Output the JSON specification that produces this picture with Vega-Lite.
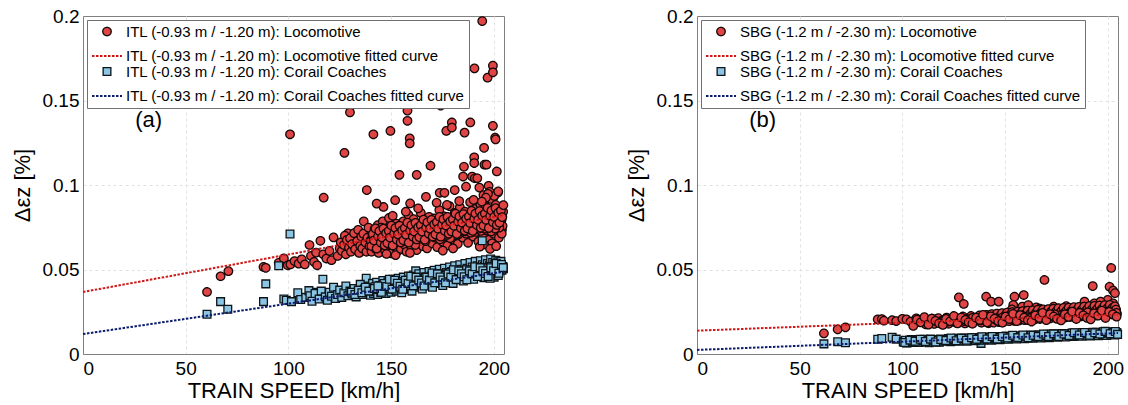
{
"$schema":"https://vega.github.io/schema/vega-lite/v6.json",
"background":"white",
"padding":{"left":10,"top":6,"right":5,"bottom":0},
"bounds":"flush",
"spacing":193,
"datasets":{
"aP":[
{"s":"L","x":60.4,"y":0.0367},{"s":"L","x":67,"y":0.046},{"s":"L","x":70.8,"y":0.049},{"s":"L","x":87.9,"y":0.0515},{"s":"L","x":89,"y":0.051},{"s":"L","x":95.3,"y":0.054},{"s":"L","x":97.8,"y":0.0566},{"s":"L","x":99.7,"y":0.0525},{"s":"L","x":101,"y":0.053},{"s":"L","x":100.8,"y":0.130},{"s":"L","x":103,"y":0.055},{"s":"L","x":105,"y":0.0535},{"s":"L","x":106.5,"y":0.056},{"s":"L","x":108,"y":0.053},{"s":"L","x":110.3,"y":0.0645},{"s":"L","x":111,"y":0.058},{"s":"L","x":112.5,"y":0.0545},{"s":"L","x":113.5,"y":0.060},{"s":"L","x":114,"y":0.0525},{"s":"L","x":115.6,"y":0.067},{"s":"L","x":117.2,"y":0.0925},{"s":"L","x":117,"y":0.059},{"s":"L","x":118.5,"y":0.0565},{"s":"L","x":120,"y":0.061},{"s":"L","x":121,"y":0.0555},{"s":"L","x":122,"y":0.069},{"s":"L","x":124,"y":0.058},{"s":"L","x":125,"y":0.0625},{"s":"L","x":127.3,"y":0.119},{"s":"L","x":129,"y":0.0714},{"s":"L","x":130,"y":0.143},{"s":"L","x":133,"y":0.070},{"s":"L","x":136.7,"y":0.0785},{"s":"L","x":138.2,"y":0.097},{"s":"L","x":141.4,"y":0.130},{"s":"L","x":146.3,"y":0.087},{"s":"L","x":149.7,"y":0.132},{"s":"L","x":154.1,"y":0.106},{"s":"L","x":158,"y":0.144},{"s":"L","x":158,"y":0.138},{"s":"L","x":158.5,"y":0.150},{"s":"L","x":159.1,"y":0.1276},{"s":"L","x":159.1,"y":0.1246},{"s":"L","x":159.3,"y":0.0891},{"s":"L","x":162.5,"y":0.106},{"s":"L","x":169.2,"y":0.1114},{"s":"L","x":173.6,"y":0.149},{"s":"L","x":174.2,"y":0.147},{"s":"L","x":173.7,"y":0.0954},{"s":"L","x":176,"y":0.0954},{"s":"L","x":176.9,"y":0.132},{"s":"L","x":179.6,"y":0.137},{"s":"L","x":179.6,"y":0.134},{"s":"L","x":185.5,"y":0.1108},{"s":"L","x":185.1,"y":0.105},{"s":"L","x":185.8,"y":0.131},{"s":"L","x":186.5,"y":0.099},{"s":"L","x":188.6,"y":0.137},{"s":"L","x":189.5,"y":0.105},{"s":"L","x":190.5,"y":0.1164},{"s":"L","x":190.5,"y":0.113},{"s":"L","x":190.6,"y":0.169},{"s":"L","x":190.8,"y":0.104},{"s":"L","x":194.4,"y":0.197},{"s":"L","x":195.3,"y":0.122},{"s":"L","x":195.5,"y":0.112},{"s":"L","x":196.5,"y":0.112},{"s":"L","x":197,"y":0.1635},{"s":"L","x":197.5,"y":0.0995},{"s":"L","x":199.6,"y":0.1706},{"s":"L","x":199.6,"y":0.1667},{"s":"L","x":199.6,"y":0.135},{"s":"L","x":200.7,"y":0.128},{"s":"L","x":200.9,"y":0.127},{"s":"L","x":201.5,"y":0.108},{"s":"L","x":192,"y":0.104},{"s":"L","x":193,"y":0.0985},{"s":"L","x":195,"y":0.094},{"s":"L","x":198,"y":0.096},{"s":"L","x":200,"y":0.093},{"s":"L","x":202,"y":0.0955},{"s":"L","x":181,"y":0.097},{"s":"L","x":167,"y":0.093},{"s":"L","x":152,"y":0.091},{"s":"L","x":143,"y":0.089},
{"s":"L","x":125.5,"y":0.066},{"s":"L","x":126,"y":0.061},{"s":"L","x":127,"y":0.0645},{"s":"L","x":127.5,"y":0.070},{"s":"L","x":128,"y":0.059},{"s":"L","x":128.5,"y":0.0675},{"s":"L","x":129.5,"y":0.063},{"s":"L","x":130,"y":0.0685},{"s":"L","x":130.5,"y":0.0605},{"s":"L","x":131,"y":0.065},{"s":"L","x":132,"y":0.0715},{"s":"L","x":132.5,"y":0.062},{"s":"L","x":133.5,"y":0.0668},{"s":"L","x":134,"y":0.0735},{"s":"L","x":134.5,"y":0.0598},{"s":"L","x":135,"y":0.064},{"s":"L","x":135.5,"y":0.0695},{"s":"L","x":136,"y":0.0625},{"s":"L","x":136.5,"y":0.0712},{"s":"L","x":137.5,"y":0.066},{"s":"L","x":138,"y":0.0605},{"s":"L","x":138.5,"y":0.0688},{"s":"L","x":139,"y":0.0748},{"s":"L","x":139.5,"y":0.0638},{"s":"L","x":140,"y":0.0672},
{"s":"L","x":140.5,"y":0.0605},{"s":"L","x":141,"y":0.0702},{"s":"L","x":141.5,"y":0.0655},{"s":"L","x":142,"y":0.0738},{"s":"L","x":142.5,"y":0.0622},{"s":"L","x":143,"y":0.0685},{"s":"L","x":143.5,"y":0.0762},{"s":"L","x":144,"y":0.0598},{"s":"L","x":144.5,"y":0.0668},{"s":"L","x":145,"y":0.0712},{"s":"L","x":145.5,"y":0.0642},{"s":"L","x":146,"y":0.0785},{"s":"L","x":146.5,"y":0.0695},{"s":"L","x":147,"y":0.0615},{"s":"L","x":147.5,"y":0.0672},{"s":"L","x":148,"y":0.0728},{"s":"L","x":148.5,"y":0.0658},{"s":"L","x":149,"y":0.0805},{"s":"L","x":149.5,"y":0.0702},{"s":"L","x":150,"y":0.0595},{"s":"L","x":150.5,"y":0.0682},{"s":"L","x":151,"y":0.0745},{"s":"L","x":151.5,"y":0.0638},{"s":"L","x":152,"y":0.0712},{"s":"L","x":152.5,"y":0.0772},{"s":"L","x":153,"y":0.0668},{"s":"L","x":153.5,"y":0.0612},{"s":"L","x":154,"y":0.0698},{"s":"L","x":154.5,"y":0.0735},{"s":"L","x":155,"y":0.0655},{"s":"L","x":145.2,"y":0.0748},{"s":"L","x":147.8,"y":0.0592},{"s":"L","x":149.2,"y":0.0662},{"s":"L","x":150.8,"y":0.0818},{"s":"L","x":152.2,"y":0.0585},{"s":"L","x":153.8,"y":0.0758},{"s":"L","x":141.8,"y":0.0682},{"s":"L","x":143.8,"y":0.0635},{"s":"L","x":146.8,"y":0.0742},{"s":"L","x":148.8,"y":0.0695},{"s":"L","x":151.8,"y":0.0678},{"s":"L","x":154.8,"y":0.0622},{"s":"L","x":144.8,"y":0.0702},{"s":"L","x":150.2,"y":0.0725},{"s":"L","x":153.2,"y":0.0692},
{"s":"L","x":155.5,"y":0.0712},{"s":"L","x":156,"y":0.0785},{"s":"L","x":156.5,"y":0.0648},{"s":"L","x":157,"y":0.0735},{"s":"L","x":157.5,"y":0.0605},{"s":"L","x":158,"y":0.0692},{"s":"L","x":158.5,"y":0.0822},{"s":"L","x":159,"y":0.0668},{"s":"L","x":159.5,"y":0.0752},{"s":"L","x":160,"y":0.0628},{"s":"L","x":160.5,"y":0.0715},{"s":"L","x":161,"y":0.0798},{"s":"L","x":161.5,"y":0.0682},{"s":"L","x":162,"y":0.0742},{"s":"L","x":162.5,"y":0.0615},{"s":"L","x":163,"y":0.0705},{"s":"L","x":163.5,"y":0.0768},{"s":"L","x":164,"y":0.0658},{"s":"L","x":164.5,"y":0.0835},{"s":"L","x":165,"y":0.0725},{"s":"L","x":165.5,"y":0.0638},{"s":"L","x":166,"y":0.0698},{"s":"L","x":166.5,"y":0.0775},{"s":"L","x":167,"y":0.0712},{"s":"L","x":167.5,"y":0.0625},{"s":"L","x":168,"y":0.0748},{"s":"L","x":168.5,"y":0.0812},{"s":"L","x":169,"y":0.0685},{"s":"L","x":169.5,"y":0.0732},{"s":"L","x":170,"y":0.0655},{"s":"L","x":155.8,"y":0.0668},{"s":"L","x":156.8,"y":0.0702},{"s":"L","x":158.8,"y":0.0728},{"s":"L","x":160.8,"y":0.0765},{"s":"L","x":161.8,"y":0.0645},{"s":"L","x":162.8,"y":0.0685},{"s":"L","x":163.8,"y":0.0722},{"s":"L","x":164.8,"y":0.0695},{"s":"L","x":166.8,"y":0.0668},{"s":"L","x":167.8,"y":0.0732},{"s":"L","x":169.8,"y":0.0778},{"s":"L","x":157.2,"y":0.0842},{"s":"L","x":159.2,"y":0.0598},{"s":"L","x":163.2,"y":0.0862},{"s":"L","x":165.2,"y":0.0758},
{"s":"L","x":170.5,"y":0.0742},{"s":"L","x":171,"y":0.0802},{"s":"L","x":171.5,"y":0.0688},{"s":"L","x":172,"y":0.0758},{"s":"L","x":172.5,"y":0.0632},{"s":"L","x":173,"y":0.0718},{"s":"L","x":173.5,"y":0.0852},{"s":"L","x":174,"y":0.0705},{"s":"L","x":174.5,"y":0.0782},{"s":"L","x":175,"y":0.0665},{"s":"L","x":175.5,"y":0.0738},{"s":"L","x":176,"y":0.0815},{"s":"L","x":176.5,"y":0.0695},{"s":"L","x":177,"y":0.0768},{"s":"L","x":177.5,"y":0.0642},{"s":"L","x":178,"y":0.0728},{"s":"L","x":178.5,"y":0.0875},{"s":"L","x":179,"y":0.0712},{"s":"L","x":179.5,"y":0.0795},{"s":"L","x":180,"y":0.0678},{"s":"L","x":180.5,"y":0.0752},{"s":"L","x":181,"y":0.0835},{"s":"L","x":181.5,"y":0.0702},{"s":"L","x":182,"y":0.0772},{"s":"L","x":182.5,"y":0.0652},{"s":"L","x":183,"y":0.0742},{"s":"L","x":183.5,"y":0.0868},{"s":"L","x":184,"y":0.0725},{"s":"L","x":184.5,"y":0.0805},{"s":"L","x":185,"y":0.0688},{"s":"L","x":170.8,"y":0.0712},{"s":"L","x":171.8,"y":0.0735},{"s":"L","x":172.8,"y":0.0785},{"s":"L","x":173.8,"y":0.0678},{"s":"L","x":174.8,"y":0.0748},{"s":"L","x":175.8,"y":0.0712},{"s":"L","x":176.8,"y":0.0762},{"s":"L","x":177.8,"y":0.0738},{"s":"L","x":178.8,"y":0.0685},{"s":"L","x":179.8,"y":0.0752},{"s":"L","x":180.8,"y":0.0725},{"s":"L","x":181.8,"y":0.0798},{"s":"L","x":182.8,"y":0.0708},{"s":"L","x":183.8,"y":0.0765},{"s":"L","x":184.8,"y":0.0742},{"s":"L","x":172.2,"y":0.0895},{"s":"L","x":175.2,"y":0.0612},{"s":"L","x":177.2,"y":0.0882},{"s":"L","x":180.2,"y":0.0625},{"s":"L","x":183.2,"y":0.0905},
{"s":"L","x":185.5,"y":0.0768},{"s":"L","x":186,"y":0.0842},{"s":"L","x":186.5,"y":0.0712},{"s":"L","x":187,"y":0.0788},{"s":"L","x":187.5,"y":0.0658},{"s":"L","x":188,"y":0.0752},{"s":"L","x":188.5,"y":0.0898},{"s":"L","x":189,"y":0.0735},{"s":"L","x":189.5,"y":0.0815},{"s":"L","x":190,"y":0.0695},{"s":"L","x":190.5,"y":0.0772},{"s":"L","x":191,"y":0.0858},{"s":"L","x":191.5,"y":0.0722},{"s":"L","x":192,"y":0.0798},{"s":"L","x":192.5,"y":0.0665},{"s":"L","x":193,"y":0.0762},{"s":"L","x":193.5,"y":0.0885},{"s":"L","x":194,"y":0.0745},{"s":"L","x":194.5,"y":0.0828},{"s":"L","x":195,"y":0.0702},{"s":"L","x":195.5,"y":0.0785},{"s":"L","x":196,"y":0.0872},{"s":"L","x":196.5,"y":0.0732},{"s":"L","x":197,"y":0.0812},{"s":"L","x":197.5,"y":0.0675},{"s":"L","x":198,"y":0.0768},{"s":"L","x":198.5,"y":0.0918},{"s":"L","x":199,"y":0.0752},{"s":"L","x":199.5,"y":0.0845},{"s":"L","x":200,"y":0.0712},{"s":"L","x":200.5,"y":0.0795},{"s":"L","x":201,"y":0.0882},{"s":"L","x":201.5,"y":0.0742},{"s":"L","x":202,"y":0.0822},{"s":"L","x":202.5,"y":0.0688},{"s":"L","x":203,"y":0.0778},{"s":"L","x":203.5,"y":0.0858},{"s":"L","x":204,"y":0.0735},{"s":"L","x":185.8,"y":0.0725},{"s":"L","x":186.8,"y":0.0772},{"s":"L","x":187.8,"y":0.0805},{"s":"L","x":188.8,"y":0.0718},{"s":"L","x":189.8,"y":0.0758},{"s":"L","x":190.8,"y":0.0792},{"s":"L","x":191.8,"y":0.0745},{"s":"L","x":192.8,"y":0.0818},{"s":"L","x":193.8,"y":0.0728},{"s":"L","x":194.8,"y":0.0772},{"s":"L","x":195.8,"y":0.0805},{"s":"L","x":196.8,"y":0.0758},{"s":"L","x":197.8,"y":0.0842},{"s":"L","x":198.8,"y":0.0725},{"s":"L","x":199.8,"y":0.0782},{"s":"L","x":200.8,"y":0.0815},{"s":"L","x":201.8,"y":0.0768},{"s":"L","x":202.8,"y":0.0852},{"s":"L","x":203.8,"y":0.0792},{"s":"L","x":199.2,"y":0.0655},{"s":"L","x":200.2,"y":0.0935},{"s":"L","x":197.2,"y":0.0948},{"s":"L","x":195.2,"y":0.0648},{"s":"L","x":198.2,"y":0.0622},{"s":"L","x":201.2,"y":0.0638},{"s":"L","x":190.2,"y":0.0912},{"s":"L","x":193.2,"y":0.0635},{"s":"L","x":196.2,"y":0.0925},{"s":"L","x":202.2,"y":0.0962},{"s":"L","x":204.2,"y":0.0812},{"s":"L","x":194.2,"y":0.0902},
{"s":"L","x":140.2,"y":0.0668},{"s":"L","x":141.3,"y":0.0695},{"s":"L","x":142.7,"y":0.0712},{"s":"L","x":143.4,"y":0.0668},{"s":"L","x":144.2,"y":0.0725},{"s":"L","x":145.7,"y":0.0688},{"s":"L","x":146.3,"y":0.0662},{"s":"L","x":147.3,"y":0.0718},{"s":"L","x":148.2,"y":0.0742},{"s":"L","x":149.7,"y":0.0678},{"s":"L","x":150.4,"y":0.0702},{"s":"L","x":151.2,"y":0.0662},{"s":"L","x":152.7,"y":0.0735},{"s":"L","x":153.6,"y":0.0718},{"s":"L","x":154.3,"y":0.0678},{"s":"L","x":155.3,"y":0.0745},{"s":"L","x":156.2,"y":0.0688},{"s":"L","x":157.7,"y":0.0712},{"s":"L","x":158.3,"y":0.0765},{"s":"L","x":159.7,"y":0.0705},{"s":"L","x":160.3,"y":0.0682},{"s":"L","x":161.2,"y":0.0738},{"s":"L","x":162.3,"y":0.0712},{"s":"L","x":163.7,"y":0.0748},{"s":"L","x":164.2,"y":0.0768},{"s":"L","x":165.7,"y":0.0702},{"s":"L","x":166.2,"y":0.0738},{"s":"L","x":167.3,"y":0.0758},{"s":"L","x":168.3,"y":0.0712},{"s":"L","x":169.2,"y":0.0745},{"s":"L","x":170.3,"y":0.0782},{"s":"L","x":171.2,"y":0.0725},{"s":"L","x":172.3,"y":0.0752},{"s":"L","x":173.2,"y":0.0768},{"s":"L","x":174.3,"y":0.0732},{"s":"L","x":175.3,"y":0.0788},{"s":"L","x":176.2,"y":0.0742},{"s":"L","x":177.3,"y":0.0705},{"s":"L","x":178.2,"y":0.0778},{"s":"L","x":179.3,"y":0.0758},{"s":"L","x":180.3,"y":0.0795},{"s":"L","x":181.2,"y":0.0748},{"s":"L","x":182.3,"y":0.0732},{"s":"L","x":183.3,"y":0.0802},{"s":"L","x":184.2,"y":0.0768},{"s":"L","x":185.3,"y":0.0752},{"s":"L","x":186.2,"y":0.0798},{"s":"L","x":187.3,"y":0.0738},{"s":"L","x":188.2,"y":0.0785},{"s":"L","x":189.3,"y":0.0812},{"s":"L","x":190.3,"y":0.0752},{"s":"L","x":191.2,"y":0.0802},{"s":"L","x":192.3,"y":0.0772},{"s":"L","x":193.3,"y":0.0798},{"s":"L","x":194.3,"y":0.0752},{"s":"L","x":195.3,"y":0.0822},{"s":"L","x":196.3,"y":0.0782},{"s":"L","x":197.3,"y":0.0745},{"s":"L","x":198.3,"y":0.0808},{"s":"L","x":199.3,"y":0.0835},{"s":"L","x":200.3,"y":0.0768},{"s":"L","x":201.3,"y":0.0802},{"s":"L","x":202.3,"y":0.0785},{"s":"L","x":203.3,"y":0.0822},{"s":"L","x":204.3,"y":0.0758},{"s":"L","x":204.6,"y":0.0842},{"s":"L","x":203.9,"y":0.0712},{"s":"L","x":202.7,"y":0.0748},{"s":"L","x":201.7,"y":0.0825},{"s":"L","x":200.7,"y":0.0742},{"s":"L","x":199.7,"y":0.0798},{"s":"L","x":198.7,"y":0.0772},{"s":"L","x":197.7,"y":0.0822},{"s":"L","x":196.7,"y":0.0795},{"s":"L","x":195.7,"y":0.0742},{"s":"L","x":194.7,"y":0.0795},{"s":"L","x":193.7,"y":0.0812},{"s":"L","x":192.7,"y":0.0742},{"s":"L","x":191.7,"y":0.0778},{"s":"L","x":190.7,"y":0.0825},{"s":"L","x":189.7,"y":0.0772},{"s":"L","x":188.7,"y":0.0762},{"s":"L","x":187.7,"y":0.0795},{"s":"L","x":186.7,"y":0.0748},{"s":"L","x":185.7,"y":0.0792},
{"s":"L","x":140.4,"y":0.0639},{"s":"L","x":141.1,"y":0.0710},{"s":"L","x":141.7,"y":0.0672},{"s":"L","x":142.4,"y":0.0743},{"s":"L","x":143.0,"y":0.0624},{"s":"L","x":143.7,"y":0.0696},{"s":"L","x":144.3,"y":0.0727},{"s":"L","x":145.0,"y":0.0659},{"s":"L","x":145.6,"y":0.0690},{"s":"L","x":146.3,"y":0.0742},{"s":"L","x":146.9,"y":0.0643},{"s":"L","x":147.6,"y":0.0715},{"s":"L","x":148.2,"y":0.0656},{"s":"L","x":148.9,"y":0.0728},{"s":"L","x":149.5,"y":0.0689},{"s":"L","x":150.2,"y":0.0760},{"s":"L","x":150.8,"y":0.0642},{"s":"L","x":151.5,"y":0.0713},{"s":"L","x":152.1,"y":0.0745},{"s":"L","x":152.8,"y":0.0676},{"s":"L","x":153.4,"y":0.0708},{"s":"L","x":154.1,"y":0.0759},{"s":"L","x":154.7,"y":0.0660},{"s":"L","x":155.4,"y":0.0732},{"s":"L","x":156.0,"y":0.0673},{"s":"L","x":156.7,"y":0.0745},{"s":"L","x":157.3,"y":0.0706},{"s":"L","x":158.0,"y":0.0778},{"s":"L","x":158.6,"y":0.0659},{"s":"L","x":159.3,"y":0.0731},{"s":"L","x":159.9,"y":0.0762},{"s":"L","x":160.6,"y":0.0694},{"s":"L","x":161.2,"y":0.0725},{"s":"L","x":161.9,"y":0.0776},{"s":"L","x":162.5,"y":0.0678},{"s":"L","x":163.2,"y":0.0749},{"s":"L","x":163.8,"y":0.0691},{"s":"L","x":164.5,"y":0.0762},{"s":"L","x":165.1,"y":0.0724},{"s":"L","x":165.8,"y":0.0795},{"s":"L","x":166.4,"y":0.0676},{"s":"L","x":167.1,"y":0.0748},{"s":"L","x":167.7,"y":0.0779},{"s":"L","x":168.4,"y":0.0711},{"s":"L","x":169.0,"y":0.0742},{"s":"L","x":169.7,"y":0.0794},{"s":"L","x":170.3,"y":0.0695},{"s":"L","x":171.0,"y":0.0767},{"s":"L","x":171.6,"y":0.0708},{"s":"L","x":172.3,"y":0.0780},{"s":"L","x":172.9,"y":0.0741},{"s":"L","x":173.6,"y":0.0812},{"s":"L","x":174.2,"y":0.0694},{"s":"L","x":174.9,"y":0.0765},{"s":"L","x":175.5,"y":0.0797},{"s":"L","x":176.2,"y":0.0728},{"s":"L","x":176.8,"y":0.0760},{"s":"L","x":177.5,"y":0.0811},{"s":"L","x":178.1,"y":0.0712},{"s":"L","x":178.8,"y":0.0784},{"s":"L","x":179.4,"y":0.0725},{"s":"L","x":180.1,"y":0.0797},{"s":"L","x":180.7,"y":0.0758},{"s":"L","x":181.4,"y":0.0830},{"s":"L","x":182.0,"y":0.0711},{"s":"L","x":182.7,"y":0.0783},{"s":"L","x":183.3,"y":0.0814},{"s":"L","x":184.0,"y":0.0745},{"s":"L","x":184.6,"y":0.0777},{"s":"L","x":185.3,"y":0.0828},{"s":"L","x":185.9,"y":0.0730},{"s":"L","x":186.6,"y":0.0801},{"s":"L","x":187.2,"y":0.0743},{"s":"L","x":187.9,"y":0.0814},{"s":"L","x":188.5,"y":0.0775},{"s":"L","x":189.2,"y":0.0847},{"s":"L","x":189.8,"y":0.0728},{"s":"L","x":190.5,"y":0.0800},{"s":"L","x":191.1,"y":0.0831},{"s":"L","x":191.8,"y":0.0763},{"s":"L","x":192.4,"y":0.0794},{"s":"L","x":193.1,"y":0.0846},{"s":"L","x":193.7,"y":0.0747},{"s":"L","x":194.4,"y":0.0819},{"s":"L","x":195.0,"y":0.0760},{"s":"L","x":195.7,"y":0.0831},{"s":"L","x":196.3,"y":0.0793},{"s":"L","x":197.0,"y":0.0864},{"s":"L","x":197.6,"y":0.0746},{"s":"L","x":198.3,"y":0.0817},{"s":"L","x":198.9,"y":0.0849},{"s":"L","x":199.6,"y":0.0780},{"s":"L","x":200.2,"y":0.0811},{"s":"L","x":200.9,"y":0.0863},{"s":"L","x":201.5,"y":0.0764},{"s":"L","x":202.2,"y":0.0836},{"s":"L","x":202.8,"y":0.0777},{"s":"L","x":203.5,"y":0.0849},{"s":"L","x":204.1,"y":0.0810},{"s":"L","x":204.7,"y":0.0881},
{"s":"C","x":60.4,"y":0.0235},{"s":"C","x":67,"y":0.031},{"s":"C","x":70.5,"y":0.0265},{"s":"C","x":87.9,"y":0.031},{"s":"C","x":89,"y":0.0415},{"s":"C","x":95.3,"y":0.0522},{"s":"C","x":97.8,"y":0.0325},{"s":"C","x":99,"y":0.0318},{"s":"C","x":100.8,"y":0.071},{"s":"C","x":101.5,"y":0.031},{"s":"C","x":104.6,"y":0.0363},{"s":"C","x":106,"y":0.0322},{"s":"C","x":108.5,"y":0.0335},{"s":"C","x":110,"y":0.0375},{"s":"C","x":112,"y":0.0328},{"s":"C","x":114,"y":0.0365},{"s":"C","x":116.8,"y":0.0442},{"s":"C","x":117,"y":0.0335},{"s":"C","x":194.4,"y":0.067},{"s":"C","x":137.9,"y":0.0448},
{"s":"C","x":110.5,"y":0.0345},{"s":"C","x":111.5,"y":0.0312},{"s":"C","x":113,"y":0.0358},{"s":"C","x":115,"y":0.0325},{"s":"C","x":116,"y":0.0372},{"s":"C","x":118,"y":0.0338},{"s":"C","x":119,"y":0.0318},{"s":"C","x":120,"y":0.0365},{"s":"C","x":121,"y":0.0342},{"s":"C","x":122,"y":0.0395},{"s":"C","x":123,"y":0.0328},{"s":"C","x":124,"y":0.0352},{"s":"C","x":125,"y":0.0378},{"s":"C","x":126,"y":0.0335},{"s":"C","x":127,"y":0.0362},{"s":"C","x":128,"y":0.0402},{"s":"C","x":129,"y":0.0345},{"s":"C","x":130,"y":0.0372},{"s":"C","x":131,"y":0.0355},{"s":"C","x":132,"y":0.0388},{"s":"C","x":133,"y":0.0338},{"s":"C","x":134,"y":0.0368},{"s":"C","x":135,"y":0.0412},{"s":"C","x":136,"y":0.0352},{"s":"C","x":137,"y":0.0385},{"s":"C","x":138,"y":0.0362},{"s":"C","x":139,"y":0.0398},{"s":"C","x":140,"y":0.0348},
{"s":"C","x":140.5,"y":0.0375},{"s":"C","x":141,"y":0.0418},{"s":"C","x":141.5,"y":0.0358},{"s":"C","x":142,"y":0.0392},{"s":"C","x":142.5,"y":0.0368},{"s":"C","x":143,"y":0.0425},{"s":"C","x":143.5,"y":0.0352},{"s":"C","x":144,"y":0.0382},{"s":"C","x":144.5,"y":0.0405},{"s":"C","x":145,"y":0.0362},{"s":"C","x":145.5,"y":0.0395},{"s":"C","x":146,"y":0.0435},{"s":"C","x":146.5,"y":0.0372},{"s":"C","x":147,"y":0.0402},{"s":"C","x":147.5,"y":0.0358},{"s":"C","x":148,"y":0.0388},{"s":"C","x":148.5,"y":0.0428},{"s":"C","x":149,"y":0.0378},{"s":"C","x":149.5,"y":0.0412},{"s":"C","x":150,"y":0.0365},{"s":"C","x":150.5,"y":0.0398},{"s":"C","x":151,"y":0.0442},{"s":"C","x":151.5,"y":0.0385},{"s":"C","x":152,"y":0.0415},{"s":"C","x":152.5,"y":0.0372},{"s":"C","x":153,"y":0.0405},{"s":"C","x":153.5,"y":0.0448},{"s":"C","x":154,"y":0.0392},{"s":"C","x":154.5,"y":0.0422},{"s":"C","x":155,"y":0.0378},
{"s":"C","x":155.5,"y":0.0412},{"s":"C","x":156,"y":0.0455},{"s":"C","x":156.5,"y":0.0395},{"s":"C","x":157,"y":0.0428},{"s":"C","x":157.5,"y":0.0382},{"s":"C","x":158,"y":0.0418},{"s":"C","x":158.5,"y":0.0462},{"s":"C","x":159,"y":0.0402},{"s":"C","x":159.5,"y":0.0435},{"s":"C","x":160,"y":0.0388},{"s":"C","x":160.5,"y":0.0425},{"s":"C","x":161,"y":0.0468},{"s":"C","x":161.5,"y":0.0408},{"s":"C","x":162,"y":0.0492},{"s":"C","x":162.5,"y":0.0395},{"s":"C","x":163,"y":0.0432},{"s":"C","x":163.5,"y":0.0475},{"s":"C","x":164,"y":0.0415},{"s":"C","x":164.5,"y":0.0448},{"s":"C","x":165,"y":0.0398},{"s":"C","x":165.5,"y":0.0438},{"s":"C","x":166,"y":0.0482},{"s":"C","x":166.5,"y":0.0422},{"s":"C","x":167,"y":0.0455},{"s":"C","x":167.5,"y":0.0405},{"s":"C","x":168,"y":0.0445},{"s":"C","x":168.5,"y":0.0488},{"s":"C","x":169,"y":0.0428},{"s":"C","x":169.5,"y":0.0462},{"s":"C","x":170,"y":0.0412},
{"s":"C","x":170.5,"y":0.0452},{"s":"C","x":171,"y":0.0495},{"s":"C","x":171.5,"y":0.0435},{"s":"C","x":172,"y":0.0468},{"s":"C","x":172.5,"y":0.0418},{"s":"C","x":173,"y":0.0458},{"s":"C","x":173.5,"y":0.0502},{"s":"C","x":174,"y":0.0442},{"s":"C","x":174.5,"y":0.0475},{"s":"C","x":175,"y":0.0425},{"s":"C","x":175.5,"y":0.0465},{"s":"C","x":176,"y":0.0508},{"s":"C","x":176.5,"y":0.0448},{"s":"C","x":177,"y":0.0482},{"s":"C","x":177.5,"y":0.0432},{"s":"C","x":178,"y":0.0472},{"s":"C","x":178.5,"y":0.0515},{"s":"C","x":179,"y":0.0455},{"s":"C","x":179.5,"y":0.0488},{"s":"C","x":180,"y":0.0438},{"s":"C","x":180.5,"y":0.0478},{"s":"C","x":181,"y":0.0522},{"s":"C","x":181.5,"y":0.0462},{"s":"C","x":182,"y":0.0495},{"s":"C","x":182.5,"y":0.0445},{"s":"C","x":183,"y":0.0485},{"s":"C","x":183.5,"y":0.0528},{"s":"C","x":184,"y":0.0468},{"s":"C","x":184.5,"y":0.0502},{"s":"C","x":185,"y":0.0452},
{"s":"C","x":185.5,"y":0.0492},{"s":"C","x":186,"y":0.0535},{"s":"C","x":186.5,"y":0.0475},{"s":"C","x":187,"y":0.0508},{"s":"C","x":187.5,"y":0.0458},{"s":"C","x":188,"y":0.0498},{"s":"C","x":188.5,"y":0.0542},{"s":"C","x":189,"y":0.0482},{"s":"C","x":189.5,"y":0.0515},{"s":"C","x":190,"y":0.0462},{"s":"C","x":190.5,"y":0.0505},{"s":"C","x":191,"y":0.0548},{"s":"C","x":191.5,"y":0.0488},{"s":"C","x":192,"y":0.0522},{"s":"C","x":192.5,"y":0.0468},{"s":"C","x":193,"y":0.0512},{"s":"C","x":193.5,"y":0.0552},{"s":"C","x":194,"y":0.0495},{"s":"C","x":194.5,"y":0.0528},{"s":"C","x":195,"y":0.0472},{"s":"C","x":195.5,"y":0.0518},{"s":"C","x":196,"y":0.0558},{"s":"C","x":196.5,"y":0.0502},{"s":"C","x":197,"y":0.0535},{"s":"C","x":197.5,"y":0.0478},{"s":"C","x":198,"y":0.0525},{"s":"C","x":198.5,"y":0.0562},{"s":"C","x":199,"y":0.0508},{"s":"C","x":199.5,"y":0.0542},{"s":"C","x":200,"y":0.0482},{"s":"C","x":200.5,"y":0.0532},{"s":"C","x":201,"y":0.0555},{"s":"C","x":201.5,"y":0.0512},{"s":"C","x":202,"y":0.0545},{"s":"C","x":202.5,"y":0.0488},{"s":"C","x":203,"y":0.0528},{"s":"C","x":203.5,"y":0.0548},{"s":"C","x":204,"y":0.0495},{"s":"C","x":204.5,"y":0.0518},{"s":"C","x":160.2,"y":0.0372},{"s":"C","x":170.2,"y":0.0395},{"s":"C","x":180.2,"y":0.0418},{"s":"C","x":190.2,"y":0.0442},{"s":"C","x":195.2,"y":0.0452},{"s":"C","x":200.2,"y":0.0455},{"s":"C","x":185.2,"y":0.0432},{"s":"C","x":175.2,"y":0.0405},{"s":"C","x":165.2,"y":0.0385},{"s":"C","x":155.2,"y":0.0362},{"s":"C","x":198.2,"y":0.0448},{"s":"C","x":202.2,"y":0.0465},
{"s":"C","x":140.2,"y":0.0385},{"s":"C","x":142.2,"y":0.0398},{"s":"C","x":144.2,"y":0.0392},{"s":"C","x":146.2,"y":0.0412},{"s":"C","x":148.2,"y":0.0402},{"s":"C","x":150.2,"y":0.0418},{"s":"C","x":152.2,"y":0.0408},{"s":"C","x":154.2,"y":0.0428},{"s":"C","x":156.2,"y":0.0418},{"s":"C","x":158.2,"y":0.0438},{"s":"C","x":160.7,"y":0.0428},{"s":"C","x":162.7,"y":0.0448},{"s":"C","x":164.7,"y":0.0438},{"s":"C","x":166.7,"y":0.0455},{"s":"C","x":168.7,"y":0.0448},{"s":"C","x":170.7,"y":0.0465},{"s":"C","x":172.7,"y":0.0455},{"s":"C","x":174.7,"y":0.0472},{"s":"C","x":176.7,"y":0.0465},{"s":"C","x":178.7,"y":0.0482},{"s":"C","x":180.7,"y":0.0472},{"s":"C","x":182.7,"y":0.0488},{"s":"C","x":184.7,"y":0.0482},{"s":"C","x":186.7,"y":0.0498},{"s":"C","x":188.7,"y":0.0488},{"s":"C","x":190.7,"y":0.0505},{"s":"C","x":192.7,"y":0.0495},{"s":"C","x":194.7,"y":0.0512},{"s":"C","x":196.7,"y":0.0505},{"s":"C","x":198.7,"y":0.0518},{"s":"C","x":200.7,"y":0.0508},{"s":"C","x":202.7,"y":0.0522},{"s":"C","x":204.7,"y":0.0505},{"s":"C","x":171.7,"y":0.0442},{"s":"C","x":175.7,"y":0.0452},{"s":"C","x":179.7,"y":0.0462},{"s":"C","x":183.7,"y":0.0472},{"s":"C","x":187.7,"y":0.0478},{"s":"C","x":191.7,"y":0.0485},{"s":"C","x":195.7,"y":0.0492},{"s":"C","x":199.7,"y":0.0495},{"s":"C","x":203.7,"y":0.0502},{"s":"C","x":161.7,"y":0.0418},{"s":"C","x":165.7,"y":0.0425},{"s":"C","x":157.7,"y":0.0405},{"s":"C","x":153.7,"y":0.0395},{"s":"C","x":149.7,"y":0.0388},{"s":"C","x":145.7,"y":0.0382},
{"s":"C","x":145.3,"y":0.0365},{"s":"C","x":146.6,"y":0.0417},{"s":"C","x":147.9,"y":0.0399},{"s":"C","x":149.2,"y":0.0442},{"s":"C","x":150.5,"y":0.0384},{"s":"C","x":151.8,"y":0.0436},{"s":"C","x":153.1,"y":0.0419},{"s":"C","x":154.4,"y":0.0401},{"s":"C","x":155.7,"y":0.0383},{"s":"C","x":157.0,"y":0.0436},{"s":"C","x":158.3,"y":0.0418},{"s":"C","x":159.6,"y":0.0460},{"s":"C","x":160.9,"y":0.0403},{"s":"C","x":162.2,"y":0.0455},{"s":"C","x":163.5,"y":0.0437},{"s":"C","x":164.8,"y":0.0420},{"s":"C","x":166.1,"y":0.0402},{"s":"C","x":167.4,"y":0.0454},{"s":"C","x":168.7,"y":0.0437},{"s":"C","x":170.0,"y":0.0479},{"s":"C","x":171.3,"y":0.0421},{"s":"C","x":172.6,"y":0.0474},{"s":"C","x":173.9,"y":0.0456},{"s":"C","x":175.2,"y":0.0438},{"s":"C","x":176.5,"y":0.0421},{"s":"C","x":177.8,"y":0.0473},{"s":"C","x":179.1,"y":0.0455},{"s":"C","x":180.4,"y":0.0498},{"s":"C","x":181.7,"y":0.0440},{"s":"C","x":183.0,"y":0.0492},{"s":"C","x":184.3,"y":0.0475},{"s":"C","x":185.6,"y":0.0457},{"s":"C","x":186.9,"y":0.0439},{"s":"C","x":188.2,"y":0.0492},{"s":"C","x":189.5,"y":0.0474},{"s":"C","x":190.8,"y":0.0516},{"s":"C","x":192.1,"y":0.0459},{"s":"C","x":193.4,"y":0.0511},{"s":"C","x":194.7,"y":0.0493},{"s":"C","x":196.0,"y":0.0476},{"s":"C","x":197.3,"y":0.0458},{"s":"C","x":198.6,"y":0.0510},{"s":"C","x":199.9,"y":0.0493},{"s":"C","x":201.2,"y":0.0535},{"s":"C","x":202.5,"y":0.0478},{"s":"C","x":203.8,"y":0.0530},{"s":"C","x":204.6,"y":0.0511},{"s":"C","x":130.7,"y":0.0365},{"s":"C","x":132.4,"y":0.0352},{"s":"C","x":134.1,"y":0.0378},{"s":"C","x":135.8,"y":0.0362},{"s":"C","x":137.5,"y":0.0395},{"s":"C","x":139.2,"y":0.0372},{"s":"C","x":141.9,"y":0.0388},{"s":"C","x":143.6,"y":0.0402}
],
"aF":[
{"s":"LF","x":0,"y":0.0367},{"s":"LF","x":205,"y":0.0822},{"s":"CF","x":0,"y":0.0118},{"s":"CF","x":205,"y":0.0487}
],
"bP":[
{"s":"L","x":61.8,"y":0.0122},{"s":"L","x":68.5,"y":0.0146},{"s":"L","x":72.3,"y":0.0158},{"s":"L","x":88,"y":0.0205},{"s":"L","x":90,"y":0.0207},{"s":"L","x":91,"y":0.0197},{"s":"L","x":95,"y":0.020},{"s":"L","x":97,"y":0.0195},{"s":"L","x":100,"y":0.0208},{"s":"L","x":102,"y":0.0205},{"s":"L","x":104,"y":0.0192},{"s":"L","x":106.8,"y":0.0211},{"s":"L","x":108,"y":0.0188},{"s":"L","x":110,"y":0.0195},{"s":"L","x":112,"y":0.0182},{"s":"L","x":114,"y":0.0198},{"s":"L","x":116,"y":0.0185},{"s":"L","x":118,"y":0.0192},{"s":"L","x":120,"y":0.0178},
{"s":"L","x":127.5,"y":0.0335},{"s":"L","x":129.9,"y":0.0296},{"s":"L","x":140.8,"y":0.0339},{"s":"L","x":143.2,"y":0.031},{"s":"L","x":146.9,"y":0.031},{"s":"L","x":154.6,"y":0.0339},{"s":"L","x":159.1,"y":0.0349},{"s":"L","x":154,"y":0.029},{"s":"L","x":158.4,"y":0.028},{"s":"L","x":161.3,"y":0.029},{"s":"L","x":169.2,"y":0.0438},{"s":"L","x":173.7,"y":0.028},{"s":"L","x":179.8,"y":0.0283},{"s":"L","x":183,"y":0.0259},{"s":"L","x":188.7,"y":0.031},{"s":"L","x":192.7,"y":0.0402},{"s":"L","x":193.5,"y":0.030},{"s":"L","x":201.7,"y":0.0509},{"s":"L","x":200.9,"y":0.0398},{"s":"L","x":202.6,"y":0.0375},{"s":"L","x":203.5,"y":0.036},{"s":"L","x":200,"y":0.032},{"s":"L","x":202.6,"y":0.030},{"s":"L","x":196.5,"y":0.031},{"s":"L","x":153.3,"y":0.0264},{"s":"L","x":165.2,"y":0.0276},{"s":"L","x":166.9,"y":0.0268},{"s":"L","x":172.6,"y":0.0252},{"s":"L","x":183.4,"y":0.026},{"s":"L","x":197,"y":0.027},{"s":"L","x":199,"y":0.0265},{"s":"L","x":204,"y":0.026},
{"s":"L","x":110.5,"y":0.0192},{"s":"L","x":111.5,"y":0.0175},{"s":"L","x":112.5,"y":0.0201},{"s":"L","x":113.5,"y":0.0186},{"s":"L","x":114.5,"y":0.0209},{"s":"L","x":115.5,"y":0.0178},{"s":"L","x":116.5,"y":0.0195},{"s":"L","x":117.5,"y":0.0212},{"s":"L","x":118.5,"y":0.0183},{"s":"L","x":119.5,"y":0.0199},{"s":"L","x":120.5,"y":0.0188},{"s":"L","x":121.5,"y":0.0215},{"s":"L","x":122.5,"y":0.0179},{"s":"L","x":123.5,"y":0.0203},{"s":"L","x":124.5,"y":0.0192},{"s":"L","x":125.5,"y":0.0219},{"s":"L","x":126.5,"y":0.0184},{"s":"L","x":127.5,"y":0.0205},{"s":"L","x":128.5,"y":0.0196},{"s":"L","x":129.5,"y":0.0222},{"s":"L","x":130.5,"y":0.0181},{"s":"L","x":131.5,"y":0.0208},{"s":"L","x":132.5,"y":0.0198},{"s":"L","x":133.5,"y":0.0225},{"s":"L","x":134.5,"y":0.0187},{"s":"L","x":135.5,"y":0.0211},{"s":"L","x":136.5,"y":0.0201},{"s":"L","x":137.5,"y":0.0228},{"s":"L","x":138.5,"y":0.0185},{"s":"L","x":139.5,"y":0.0213},
{"s":"L","x":140.5,"y":0.0195},{"s":"L","x":141,"y":0.0232},{"s":"L","x":141.5,"y":0.0204},{"s":"L","x":142,"y":0.0182},{"s":"L","x":142.5,"y":0.0218},{"s":"L","x":143,"y":0.0199},{"s":"L","x":143.5,"y":0.0236},{"s":"L","x":144,"y":0.0208},{"s":"L","x":144.5,"y":0.0186},{"s":"L","x":145,"y":0.0222},{"s":"L","x":145.5,"y":0.0202},{"s":"L","x":146,"y":0.0239},{"s":"L","x":146.5,"y":0.0211},{"s":"L","x":147,"y":0.0189},{"s":"L","x":147.5,"y":0.0225},{"s":"L","x":148,"y":0.0205},{"s":"L","x":148.5,"y":0.0242},{"s":"L","x":149,"y":0.0214},{"s":"L","x":149.5,"y":0.0192},{"s":"L","x":150,"y":0.0228},{"s":"L","x":150.5,"y":0.0208},{"s":"L","x":151,"y":0.0245},{"s":"L","x":151.5,"y":0.0217},{"s":"L","x":152,"y":0.0194},{"s":"L","x":152.5,"y":0.0231},{"s":"L","x":153,"y":0.0211},{"s":"L","x":153.5,"y":0.0248},{"s":"L","x":154,"y":0.0219},{"s":"L","x":154.5,"y":0.0196},{"s":"L","x":155,"y":0.0233},
{"s":"L","x":155.5,"y":0.0213},{"s":"L","x":156,"y":0.0251},{"s":"L","x":156.5,"y":0.0222},{"s":"L","x":157,"y":0.0199},{"s":"L","x":157.5,"y":0.0236},{"s":"L","x":158,"y":0.0216},{"s":"L","x":158.5,"y":0.0254},{"s":"L","x":159,"y":0.0225},{"s":"L","x":159.5,"y":0.0201},{"s":"L","x":160,"y":0.0238},{"s":"L","x":160.5,"y":0.0218},{"s":"L","x":161,"y":0.0257},{"s":"L","x":161.5,"y":0.0227},{"s":"L","x":162,"y":0.0203},{"s":"L","x":162.5,"y":0.0241},{"s":"L","x":163,"y":0.0221},{"s":"L","x":163.5,"y":0.0259},{"s":"L","x":164,"y":0.0229},{"s":"L","x":164.5,"y":0.0205},{"s":"L","x":165,"y":0.0243},{"s":"L","x":165.5,"y":0.0223},{"s":"L","x":166,"y":0.0262},{"s":"L","x":166.5,"y":0.0232},{"s":"L","x":167,"y":0.0207},{"s":"L","x":167.5,"y":0.0246},{"s":"L","x":168,"y":0.0226},{"s":"L","x":168.5,"y":0.0264},{"s":"L","x":169,"y":0.0234},{"s":"L","x":169.5,"y":0.0209},{"s":"L","x":170,"y":0.0248},
{"s":"L","x":170.5,"y":0.0228},{"s":"L","x":171,"y":0.0266},{"s":"L","x":171.5,"y":0.0236},{"s":"L","x":172,"y":0.0211},{"s":"L","x":172.5,"y":0.0251},{"s":"L","x":173,"y":0.0231},{"s":"L","x":173.5,"y":0.0268},{"s":"L","x":174,"y":0.0238},{"s":"L","x":174.5,"y":0.0213},{"s":"L","x":175,"y":0.0253},{"s":"L","x":175.5,"y":0.0233},{"s":"L","x":176,"y":0.0271},{"s":"L","x":176.5,"y":0.0241},{"s":"L","x":177,"y":0.0215},{"s":"L","x":177.5,"y":0.0255},{"s":"L","x":178,"y":0.0235},{"s":"L","x":178.5,"y":0.0273},{"s":"L","x":179,"y":0.0243},{"s":"L","x":179.5,"y":0.0217},{"s":"L","x":180,"y":0.0258},{"s":"L","x":180.5,"y":0.0237},{"s":"L","x":181,"y":0.0275},{"s":"L","x":181.5,"y":0.0245},{"s":"L","x":182,"y":0.0219},{"s":"L","x":182.5,"y":0.0259},{"s":"L","x":183,"y":0.0239},{"s":"L","x":183.5,"y":0.0277},{"s":"L","x":184,"y":0.0247},{"s":"L","x":184.5,"y":0.0221},{"s":"L","x":185,"y":0.0261},
{"s":"L","x":185.5,"y":0.0241},{"s":"L","x":186,"y":0.0279},{"s":"L","x":186.5,"y":0.0249},{"s":"L","x":187,"y":0.0223},{"s":"L","x":187.5,"y":0.0263},{"s":"L","x":188,"y":0.0243},{"s":"L","x":188.5,"y":0.0281},{"s":"L","x":189,"y":0.0251},{"s":"L","x":189.5,"y":0.0225},{"s":"L","x":190,"y":0.0265},{"s":"L","x":190.5,"y":0.0245},{"s":"L","x":191,"y":0.0283},{"s":"L","x":191.5,"y":0.0253},{"s":"L","x":192,"y":0.0227},{"s":"L","x":192.5,"y":0.0267},{"s":"L","x":193,"y":0.0247},{"s":"L","x":193.5,"y":0.0285},{"s":"L","x":194,"y":0.0255},{"s":"L","x":194.5,"y":0.0229},{"s":"L","x":195,"y":0.0269},{"s":"L","x":195.5,"y":0.0249},{"s":"L","x":196,"y":0.0287},{"s":"L","x":196.5,"y":0.0257},{"s":"L","x":197,"y":0.0231},{"s":"L","x":197.5,"y":0.0271},{"s":"L","x":198,"y":0.0251},{"s":"L","x":198.5,"y":0.0289},{"s":"L","x":199,"y":0.0259},{"s":"L","x":199.5,"y":0.0233},{"s":"L","x":200,"y":0.0273},{"s":"L","x":200.5,"y":0.0253},{"s":"L","x":201,"y":0.0291},{"s":"L","x":201.5,"y":0.0261},{"s":"L","x":202,"y":0.0235},{"s":"L","x":202.5,"y":0.0275},{"s":"L","x":203,"y":0.0255},{"s":"L","x":203.5,"y":0.0282},{"s":"L","x":204,"y":0.0263},{"s":"L","x":204.5,"y":0.0238},
{"s":"L","x":120.2,"y":0.0198},{"s":"L","x":124.2,"y":0.0201},{"s":"L","x":128.2,"y":0.0203},{"s":"L","x":132.2,"y":0.0205},{"s":"L","x":136.2,"y":0.0207},{"s":"L","x":140.2,"y":0.0209},{"s":"L","x":144.2,"y":0.0211},{"s":"L","x":148.2,"y":0.0213},{"s":"L","x":152.2,"y":0.0215},{"s":"L","x":156.2,"y":0.0218},{"s":"L","x":160.2,"y":0.0220},{"s":"L","x":164.2,"y":0.0222},{"s":"L","x":168.2,"y":0.0224},{"s":"L","x":172.2,"y":0.0226},{"s":"L","x":176.2,"y":0.0229},{"s":"L","x":180.2,"y":0.0231},{"s":"L","x":184.2,"y":0.0233},{"s":"L","x":188.2,"y":0.0235},{"s":"L","x":192.2,"y":0.0238},{"s":"L","x":196.2,"y":0.0240},{"s":"L","x":200.2,"y":0.0242},{"s":"L","x":204.2,"y":0.0244},{"s":"L","x":122.2,"y":0.0192},{"s":"L","x":126.2,"y":0.0211},{"s":"L","x":130.2,"y":0.0195},{"s":"L","x":134.2,"y":0.0214},{"s":"L","x":138.2,"y":0.0199},{"s":"L","x":142.2,"y":0.0217},{"s":"L","x":146.2,"y":0.0203},{"s":"L","x":150.2,"y":0.0221},{"s":"L","x":154.2,"y":0.0206},{"s":"L","x":158.2,"y":0.0227},{"s":"L","x":162.2,"y":0.0212},{"s":"L","x":166.2,"y":0.0231},{"s":"L","x":170.2,"y":0.0217},{"s":"L","x":174.2,"y":0.0235},{"s":"L","x":178.2,"y":0.0221},{"s":"L","x":182.2,"y":0.0241},{"s":"L","x":186.2,"y":0.0227},{"s":"L","x":190.2,"y":0.0246},{"s":"L","x":194.2,"y":0.0232},{"s":"L","x":198.2,"y":0.0249},{"s":"L","x":202.2,"y":0.0236},
{"s":"L","x":105.3,"y":0.0166},{"s":"L","x":107.1,"y":0.0203},{"s":"L","x":108.9,"y":0.0187},{"s":"L","x":110.7,"y":0.0218},{"s":"L","x":112.7,"y":0.0174},{"s":"L","x":114.3,"y":0.0210},{"s":"L","x":116.1,"y":0.0196},{"s":"L","x":117.9,"y":0.0182},{"s":"L","x":119.7,"y":0.0172},{"s":"L","x":121.3,"y":0.0208},{"s":"L","x":123.3,"y":0.0194},{"s":"L","x":125.1,"y":0.0225},{"s":"L","x":126.9,"y":0.0181},{"s":"L","x":128.7,"y":0.0216},{"s":"L","x":130.7,"y":0.0202},{"s":"L","x":132.3,"y":0.0188},{"s":"L","x":134.1,"y":0.0179},{"s":"L","x":135.9,"y":0.0215},{"s":"L","x":137.7,"y":0.0201},{"s":"L","x":139.3,"y":0.0232},{"s":"L","x":141.3,"y":0.0187},{"s":"L","x":143.1,"y":0.0223},{"s":"L","x":144.9,"y":0.0209},{"s":"L","x":146.7,"y":0.0195},{"s":"L","x":148.7,"y":0.0185},{"s":"L","x":150.3,"y":0.0221},{"s":"L","x":152.1,"y":0.0207},{"s":"L","x":153.9,"y":0.0238},{"s":"L","x":155.7,"y":0.0194},{"s":"L","x":157.3,"y":0.0230},{"s":"L","x":159.3,"y":0.0215},{"s":"L","x":161.1,"y":0.0201},{"s":"L","x":162.9,"y":0.0192},{"s":"L","x":164.7,"y":0.0228},{"s":"L","x":166.7,"y":0.0214},{"s":"L","x":168.3,"y":0.0244},{"s":"L","x":170.1,"y":0.0200},{"s":"L","x":171.9,"y":0.0236},{"s":"L","x":173.7,"y":0.0222},{"s":"L","x":175.3,"y":0.0208},{"s":"L","x":177.3,"y":0.0199},{"s":"L","x":179.1,"y":0.0235},{"s":"L","x":180.9,"y":0.0220},{"s":"L","x":182.7,"y":0.0251},{"s":"L","x":184.7,"y":0.0207},{"s":"L","x":186.3,"y":0.0243},{"s":"L","x":188.1,"y":0.0229},{"s":"L","x":189.9,"y":0.0214},{"s":"L","x":191.7,"y":0.0205},{"s":"L","x":193.3,"y":0.0241},{"s":"L","x":195.3,"y":0.0227},{"s":"L","x":197.1,"y":0.0257},{"s":"L","x":198.9,"y":0.0213},{"s":"L","x":200.7,"y":0.0249},{"s":"L","x":202.5,"y":0.0235},{"s":"L","x":204.3,"y":0.0221},
{"s":"C","x":61.8,"y":0.006},{"s":"C","x":68.5,"y":0.0073},{"s":"C","x":72.3,"y":0.0067},{"s":"C","x":88,"y":0.0087},{"s":"C","x":90,"y":0.0092},{"s":"C","x":95,"y":0.0099},{"s":"C","x":97,"y":0.0088},{"s":"C","x":100.5,"y":0.0072},{"s":"C","x":102,"y":0.0065},{"s":"C","x":104,"y":0.0070},{"s":"C","x":106,"y":0.0078},{"s":"C","x":108,"y":0.0068},{"s":"C","x":111,"y":0.0076},{"s":"C","x":113,"y":0.0066},{"s":"C","x":116,"y":0.0074},{"s":"C","x":118,"y":0.0069},{"s":"C","x":120,"y":0.0080},{"s":"C","x":138.3,"y":0.0063},
{"s":"C","x":100.5,"y":0.0071},{"s":"C","x":101.5,"y":0.0081},{"s":"C","x":102.5,"y":0.0066},{"s":"C","x":103.5,"y":0.0077},{"s":"C","x":104.5,"y":0.0085},{"s":"C","x":105.5,"y":0.0068},{"s":"C","x":106.5,"y":0.0075},{"s":"C","x":107.5,"y":0.0082},{"s":"C","x":108.5,"y":0.0070},{"s":"C","x":109.5,"y":0.0078},{"s":"C","x":110.5,"y":0.0087},{"s":"C","x":111.5,"y":0.0072},{"s":"C","x":112.5,"y":0.0080},{"s":"C","x":113.5,"y":0.0069},{"s":"C","x":114.5,"y":0.0077},{"s":"C","x":115.5,"y":0.0086},{"s":"C","x":116.5,"y":0.0073},{"s":"C","x":117.5,"y":0.0081},{"s":"C","x":118.5,"y":0.0089},{"s":"C","x":119.5,"y":0.0075},{"s":"C","x":120.5,"y":0.0083},{"s":"C","x":121.5,"y":0.0077},{"s":"C","x":122.5,"y":0.0091},{"s":"C","x":123.5,"y":0.0072},{"s":"C","x":124.5,"y":0.0085},{"s":"C","x":125.5,"y":0.0080},{"s":"C","x":126.5,"y":0.0093},{"s":"C","x":127.5,"y":0.0076},{"s":"C","x":128.5,"y":0.0087},{"s":"C","x":129.5,"y":0.0081},{"s":"C","x":130.5,"y":0.0095},{"s":"C","x":131.5,"y":0.0076},{"s":"C","x":132.5,"y":0.0089},{"s":"C","x":133.5,"y":0.0084},{"s":"C","x":134.5,"y":0.0097},{"s":"C","x":135.5,"y":0.0079},{"s":"C","x":136.5,"y":0.0091},{"s":"C","x":137.5,"y":0.0085},{"s":"C","x":138.5,"y":0.0099},{"s":"C","x":139.5,"y":0.0082},
{"s":"C","x":140.5,"y":0.0093},{"s":"C","x":141.5,"y":0.0088},{"s":"C","x":142.5,"y":0.0101},{"s":"C","x":143.5,"y":0.0082},{"s":"C","x":144.5,"y":0.0095},{"s":"C","x":145.5,"y":0.0089},{"s":"C","x":146.5,"y":0.0103},{"s":"C","x":147.5,"y":0.0085},{"s":"C","x":148.5,"y":0.0097},{"s":"C","x":149.5,"y":0.0091},{"s":"C","x":150.5,"y":0.0106},{"s":"C","x":151.5,"y":0.0087},{"s":"C","x":152.5,"y":0.0099},{"s":"C","x":153.5,"y":0.0094},{"s":"C","x":154.5,"y":0.0108},{"s":"C","x":155.5,"y":0.0089},{"s":"C","x":156.5,"y":0.0101},{"s":"C","x":157.5,"y":0.0096},{"s":"C","x":158.5,"y":0.0110},{"s":"C","x":159.5,"y":0.0091},{"s":"C","x":160.5,"y":0.0103},{"s":"C","x":161.5,"y":0.0097},{"s":"C","x":162.5,"y":0.0112},{"s":"C","x":163.5,"y":0.0093},{"s":"C","x":164.5,"y":0.0105},{"s":"C","x":165.5,"y":0.0099},{"s":"C","x":166.5,"y":0.0114},{"s":"C","x":167.5,"y":0.0095},{"s":"C","x":168.5,"y":0.0107},{"s":"C","x":169.5,"y":0.0101},
{"s":"C","x":170.5,"y":0.0116},{"s":"C","x":171.5,"y":0.0097},{"s":"C","x":172.5,"y":0.0109},{"s":"C","x":173.5,"y":0.0104},{"s":"C","x":174.5,"y":0.0118},{"s":"C","x":175.5,"y":0.0099},{"s":"C","x":176.5,"y":0.0111},{"s":"C","x":177.5,"y":0.0105},{"s":"C","x":178.5,"y":0.0120},{"s":"C","x":179.5,"y":0.0101},{"s":"C","x":180.5,"y":0.0113},{"s":"C","x":181.5,"y":0.0107},{"s":"C","x":182.5,"y":0.0122},{"s":"C","x":183.5,"y":0.0103},{"s":"C","x":184.5,"y":0.0115},{"s":"C","x":185.5,"y":0.0109},{"s":"C","x":186.5,"y":0.0124},{"s":"C","x":187.5,"y":0.0105},{"s":"C","x":188.5,"y":0.0117},{"s":"C","x":189.5,"y":0.0111},{"s":"C","x":190.5,"y":0.0126},{"s":"C","x":191.5,"y":0.0106},{"s":"C","x":192.5,"y":0.0119},{"s":"C","x":193.5,"y":0.0113},{"s":"C","x":194.5,"y":0.0128},{"s":"C","x":195.5,"y":0.0108},{"s":"C","x":196.5,"y":0.0121},{"s":"C","x":197.5,"y":0.0115},{"s":"C","x":198.5,"y":0.0130},{"s":"C","x":199.5,"y":0.0110},{"s":"C","x":200.5,"y":0.0123},{"s":"C","x":201.5,"y":0.0117},{"s":"C","x":202.5,"y":0.0132},{"s":"C","x":203.5,"y":0.0112},{"s":"C","x":204.5,"y":0.0125},
{"s":"C","x":105.2,"y":0.0076},{"s":"C","x":110.2,"y":0.0080},{"s":"C","x":115.2,"y":0.0082},{"s":"C","x":120.2,"y":0.0085},{"s":"C","x":125.2,"y":0.0087},{"s":"C","x":130.2,"y":0.0090},{"s":"C","x":135.2,"y":0.0092},{"s":"C","x":140.2,"y":0.0095},{"s":"C","x":145.2,"y":0.0097},{"s":"C","x":150.2,"y":0.0100},{"s":"C","x":155.2,"y":0.0102},{"s":"C","x":160.2,"y":0.0105},{"s":"C","x":165.2,"y":0.0107},{"s":"C","x":170.2,"y":0.0110},{"s":"C","x":175.2,"y":0.0112},{"s":"C","x":180.2,"y":0.0115},{"s":"C","x":185.2,"y":0.0117},{"s":"C","x":190.2,"y":0.0120},{"s":"C","x":195.2,"y":0.0122},{"s":"C","x":200.2,"y":0.0125},{"s":"C","x":204.2,"y":0.0127},{"s":"C","x":172.8,"y":0.0118},{"s":"C","x":177.8,"y":0.0121},{"s":"C","x":182.8,"y":0.0124},{"s":"C","x":187.8,"y":0.0127},{"s":"C","x":192.8,"y":0.0129},{"s":"C","x":197.8,"y":0.0132},{"s":"C","x":202.8,"y":0.0129},{"s":"C","x":162.8,"y":0.0110},{"s":"C","x":152.8,"y":0.0104},{"s":"C","x":142.8,"y":0.0098},{"s":"C","x":132.8,"y":0.0093},{"s":"C","x":122.8,"y":0.0088},{"s":"C","x":112.8,"y":0.0083},
{"s":"C","x":101.2,"y":0.0068},{"s":"C","x":103.7,"y":0.0082},{"s":"C","x":106.2,"y":0.0075},{"s":"C","x":108.7,"y":0.0087},{"s":"C","x":111.2,"y":0.0074},{"s":"C","x":113.7,"y":0.0088},{"s":"C","x":116.2,"y":0.0071},{"s":"C","x":118.7,"y":0.0086},{"s":"C","x":121.2,"y":0.0080},{"s":"C","x":123.7,"y":0.0095},{"s":"C","x":126.2,"y":0.0078},{"s":"C","x":128.7,"y":0.0094},{"s":"C","x":131.2,"y":0.0081},{"s":"C","x":133.7,"y":0.0096},{"s":"C","x":136.2,"y":0.0087},{"s":"C","x":138.7,"y":0.0102},{"s":"C","x":141.2,"y":0.0089},{"s":"C","x":143.7,"y":0.0104},{"s":"C","x":146.2,"y":0.0088},{"s":"C","x":148.7,"y":0.0103},{"s":"C","x":151.2,"y":0.0095},{"s":"C","x":153.7,"y":0.0111},{"s":"C","x":156.2,"y":0.0097},{"s":"C","x":158.7,"y":0.0112},{"s":"C","x":161.2,"y":0.0096},{"s":"C","x":163.7,"y":0.0111},{"s":"C","x":166.2,"y":0.0103},{"s":"C","x":168.7,"y":0.0118},{"s":"C","x":171.2,"y":0.0104},{"s":"C","x":173.7,"y":0.0119},{"s":"C","x":176.2,"y":0.0103},{"s":"C","x":178.7,"y":0.0118},{"s":"C","x":181.2,"y":0.0110},{"s":"C","x":183.7,"y":0.0126},{"s":"C","x":186.2,"y":0.0112},{"s":"C","x":188.7,"y":0.0127},{"s":"C","x":191.2,"y":0.0111},{"s":"C","x":193.7,"y":0.0126},{"s":"C","x":196.2,"y":0.0118},{"s":"C","x":198.7,"y":0.0134},{"s":"C","x":201.2,"y":0.0120},{"s":"C","x":203.7,"y":0.0133},{"s":"C","x":204.8,"y":0.0116}
],
"bF":[
{"s":"LF","x":0,"y":0.0138},{"s":"LF","x":205,"y":0.0234},{"s":"CF","x":0,"y":0.0024},{"s":"CF","x":205,"y":0.0124}
]
},
"hconcat":[
{
"width":421,"height":338,
"encoding":{
"x":{"field":"x","type":"quantitative","scale":{"domain":[0,205],"nice":false,"zero":false},"axis":{"values":[0,50,100,150,200],"title":"TRAIN SPEED [km/h]","ticks":false,"labelPadding":5,"titlePadding":2}},
"y":{"field":"y","type":"quantitative","scale":{"domain":[0,0.2],"nice":false},"axis":{"values":[0,0.05,0.1,0.15,0.2],"format":"~g","title":"Δεz [%]","ticks":false,"labelPadding":4,"titlePadding":8,"gridOpacity":{"condition":{"test":"datum.value >= 0.2","value":0},"value":1}}}
},
"layer":[
{"data":{"name":"aP"},"mark":{"type":"point","filled":true,"opacity":1},
"encoding":{
"shape":{"field":"s","type":"nominal","scale":{"domain":["L","LF","C","CF"],"range":["circle","stroke","square","stroke"]},"legend":{"title":null,"labelExpr":"{'L':'ITL (-0.93 m / -1.20 m): Locomotive','LF':'ITL (-0.93 m / -1.20 m): Locomotive fitted curve','C':'ITL (-0.93 m / -1.20 m): Corail Coaches','CF':'ITL (-0.93 m / -1.20 m): Corail Coaches fitted curve'}[datum.label]"}},
"fill":{"field":"s","type":"nominal","scale":{"domain":["L","LF","C","CF"],"range":["#e04444","#d01818","#8cc4e4","#0c1c6c"]},"legend":{"title":null,"labelExpr":"{'L':'ITL (-0.93 m / -1.20 m): Locomotive','LF':'ITL (-0.93 m / -1.20 m): Locomotive fitted curve','C':'ITL (-0.93 m / -1.20 m): Corail Coaches','CF':'ITL (-0.93 m / -1.20 m): Corail Coaches fitted curve'}[datum.label]"}},
"stroke":{"field":"s","type":"nominal","scale":{"domain":["L","LF","C","CF"],"range":["#140808","#d01818","#0c1418","#0c1c6c"]},"legend":{"title":null,"labelExpr":"{'L':'ITL (-0.93 m / -1.20 m): Locomotive','LF':'ITL (-0.93 m / -1.20 m): Locomotive fitted curve','C':'ITL (-0.93 m / -1.20 m): Corail Coaches','CF':'ITL (-0.93 m / -1.20 m): Corail Coaches fitted curve'}[datum.label]"}},
"size":{"field":"s","type":"nominal","scale":{"type":"ordinal","domain":["L","LF","C","CF"],"range":[72,900,60,900]},"legend":{"title":null,"labelExpr":"{'L':'ITL (-0.93 m / -1.20 m): Locomotive','LF':'ITL (-0.93 m / -1.20 m): Locomotive fitted curve','C':'ITL (-0.93 m / -1.20 m): Corail Coaches','CF':'ITL (-0.93 m / -1.20 m): Corail Coaches fitted curve'}[datum.label]"}},
"strokeWidth":{"field":"s","type":"nominal","scale":{"type":"ordinal","domain":["L","LF","C","CF"],"range":[1.3,2,1.3,2]},"legend":{"title":null,"labelExpr":"{'L':'ITL (-0.93 m / -1.20 m): Locomotive','LF':'ITL (-0.93 m / -1.20 m): Locomotive fitted curve','C':'ITL (-0.93 m / -1.20 m): Corail Coaches','CF':'ITL (-0.93 m / -1.20 m): Corail Coaches fitted curve'}[datum.label]"}},
"strokeDash":{"field":"s","type":"nominal","scale":{"domain":["L","LF","C","CF"],"range":[[1,0],[2.5,1.5],[1,0],[2.5,1.5]]},"legend":{"title":null,"labelExpr":"{'L':'ITL (-0.93 m / -1.20 m): Locomotive','LF':'ITL (-0.93 m / -1.20 m): Locomotive fitted curve','C':'ITL (-0.93 m / -1.20 m): Corail Coaches','CF':'ITL (-0.93 m / -1.20 m): Corail Coaches fitted curve'}[datum.label]"}}
}},
{"data":{"name":"aF"},"mark":{"type":"line","strokeWidth":2},
"encoding":{
"stroke":{"field":"s","type":"nominal"},
"strokeDash":{"field":"s","type":"nominal"}
}},
{"data":{"values":[{"x":32,"y":0.1385,"t":"(a)"}]},"mark":{"type":"text","fontSize":22,"font":"Liberation Sans","color":"#000"},"encoding":{"text":{"field":"t"}}}
]
},
{
"width":421,"height":338,
"encoding":{
"x":{"field":"x","type":"quantitative","scale":{"domain":[0,205],"nice":false,"zero":false},"axis":{"values":[0,50,100,150,200],"title":"TRAIN SPEED [km/h]","ticks":false,"labelPadding":5,"titlePadding":2}},
"y":{"field":"y","type":"quantitative","scale":{"domain":[0,0.2],"nice":false},"axis":{"values":[0,0.05,0.1,0.15,0.2],"format":"~g","title":"Δεz [%]","ticks":false,"labelPadding":4,"titlePadding":8,"gridOpacity":{"condition":{"test":"datum.value >= 0.2","value":0},"value":1}}}
},
"layer":[
{"data":{"name":"bP"},"mark":{"type":"point","filled":true,"opacity":1},
"encoding":{
"shape":{"field":"s","type":"nominal","scale":{"domain":["L","LF","C","CF"],"range":["circle","stroke","square","stroke"]},"legend":{"title":null,"labelExpr":"{'L':'SBG (-1.2 m / -2.30 m): Locomotive','LF':'SBG (-1.2 m / -2.30 m): Locomotive fitted curve','C':'SBG (-1.2 m / -2.30 m): Corail Coaches','CF':'SBG (-1.2 m / -2.30 m): Corail Coaches fitted curve'}[datum.label]"}},
"fill":{"field":"s","type":"nominal","scale":{"domain":["L","LF","C","CF"],"range":["#e04444","#d01818","#8cc4e4","#0c1c6c"]},"legend":{"title":null,"labelExpr":"{'L':'SBG (-1.2 m / -2.30 m): Locomotive','LF':'SBG (-1.2 m / -2.30 m): Locomotive fitted curve','C':'SBG (-1.2 m / -2.30 m): Corail Coaches','CF':'SBG (-1.2 m / -2.30 m): Corail Coaches fitted curve'}[datum.label]"}},
"stroke":{"field":"s","type":"nominal","scale":{"domain":["L","LF","C","CF"],"range":["#140808","#d01818","#0c1418","#0c1c6c"]},"legend":{"title":null,"labelExpr":"{'L':'SBG (-1.2 m / -2.30 m): Locomotive','LF':'SBG (-1.2 m / -2.30 m): Locomotive fitted curve','C':'SBG (-1.2 m / -2.30 m): Corail Coaches','CF':'SBG (-1.2 m / -2.30 m): Corail Coaches fitted curve'}[datum.label]"}},
"size":{"field":"s","type":"nominal","scale":{"type":"ordinal","domain":["L","LF","C","CF"],"range":[72,900,60,900]},"legend":{"title":null,"labelExpr":"{'L':'SBG (-1.2 m / -2.30 m): Locomotive','LF':'SBG (-1.2 m / -2.30 m): Locomotive fitted curve','C':'SBG (-1.2 m / -2.30 m): Corail Coaches','CF':'SBG (-1.2 m / -2.30 m): Corail Coaches fitted curve'}[datum.label]"}},
"strokeWidth":{"field":"s","type":"nominal","scale":{"type":"ordinal","domain":["L","LF","C","CF"],"range":[1.3,2,1.3,2]},"legend":{"title":null,"labelExpr":"{'L':'SBG (-1.2 m / -2.30 m): Locomotive','LF':'SBG (-1.2 m / -2.30 m): Locomotive fitted curve','C':'SBG (-1.2 m / -2.30 m): Corail Coaches','CF':'SBG (-1.2 m / -2.30 m): Corail Coaches fitted curve'}[datum.label]"}},
"strokeDash":{"field":"s","type":"nominal","scale":{"domain":["L","LF","C","CF"],"range":[[1,0],[2.5,1.5],[1,0],[2.5,1.5]]},"legend":{"title":null,"labelExpr":"{'L':'SBG (-1.2 m / -2.30 m): Locomotive','LF':'SBG (-1.2 m / -2.30 m): Locomotive fitted curve','C':'SBG (-1.2 m / -2.30 m): Corail Coaches','CF':'SBG (-1.2 m / -2.30 m): Corail Coaches fitted curve'}[datum.label]"}}
}},
{"data":{"name":"bF"},"mark":{"type":"line","strokeWidth":2},
"encoding":{
"stroke":{"field":"s","type":"nominal"},
"strokeDash":{"field":"s","type":"nominal"}
}},
{"data":{"values":[{"x":32,"y":0.1385,"t":"(b)"}]},"mark":{"type":"text","fontSize":22,"font":"Liberation Sans","color":"#000"},"encoding":{"text":{"field":"t"}}}
]
}
],
"resolve":{"scale":{"shape":"independent","fill":"independent","stroke":"independent","size":"independent","strokeWidth":"independent","strokeDash":"independent","x":"independent","y":"independent"},"legend":{"shape":"independent","fill":"independent","stroke":"independent","size":"independent","strokeWidth":"independent","strokeDash":"independent"}},
"config":{
"font":"Liberation Sans",
"view":{"stroke":"#808080","strokeWidth":1},
"axis":{"grid":true,"gridColor":"#e2e2e2","gridDash":[3,3],"domainColor":"#808080","labelFont":"Liberation Sans","labelFontSize":19,"labelColor":"#000","titleFont":"Liberation Sans","titleFontSize":22,"titleFontWeight":"normal","titleColor":"#000"},
"legend":{"orient":"top-left","offset":4,"padding":4,"fillColor":"white","strokeColor":"#707070","labelFont":"Liberation Sans","labelFontSize":15,"labelColor":"#000","labelLimit":600,"rowPadding":-4,"labelOffset":3,"symbolOpacity":1}
}
}
